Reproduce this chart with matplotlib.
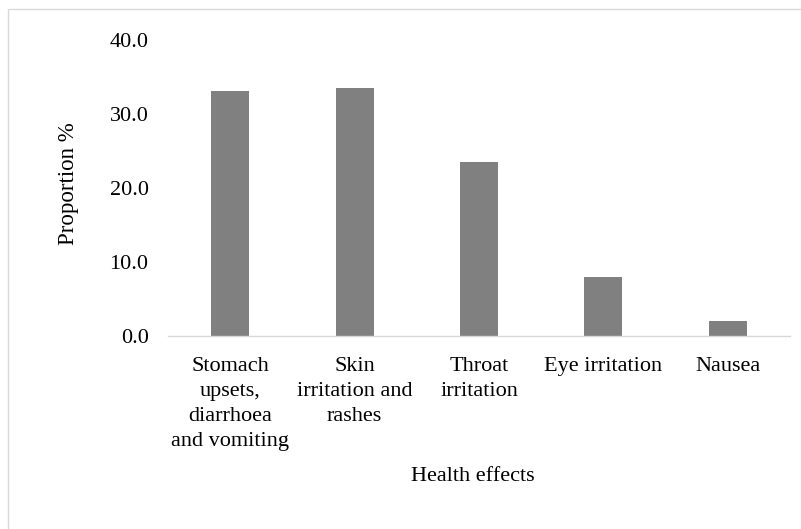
import matplotlib
matplotlib.use("Agg")
import matplotlib.pyplot as plt
from matplotlib.patches import Rectangle

categories = [
    "Stomach\nupsets,\ndiarrhoea\nand vomiting",
    "Skin\nirritation and\nrashes",
    "Throat\nirritation",
    "Eye irritation",
    "Nausea",
]
proportions = [33.1, 33.6, 23.5, 7.9, 2.0]
y_ticks = [0, 10, 20, 30, 40]

plt.rcParams["font.family"] = ["Liberation Serif", "DejaVu Serif"]

fig = plt.figure(figsize=(8.01, 5.29), dpi=100)
ax = fig.add_axes([0.2097, 0.3654, 0.7766, 0.5584])

x = range(len(categories))
ax.bar(x, proportions, width=0.306, color="#808080")
ax.set_xlim(-0.5, len(categories) - 0.5)
ax.set_ylim(0, 40)
ax.set_yticks(y_ticks)
ax.set_yticklabels([f"{v:.1f}" for v in y_ticks], fontsize=16)
ax.set_xticks(list(x))
ax.set_xticklabels(categories, fontsize=16, linespacing=1.43, va="top")

for side in ("top", "right", "left"):
    ax.spines[side].set_visible(False)
ax.spines["bottom"].set_color("#d9d9d9")
ax.spines["bottom"].set_linewidth(1.0)
ax.tick_params(axis="both", length=0)
ax.tick_params(axis="y", pad=14)
ax.tick_params(axis="x", pad=15)

ax.set_ylabel("Proportion %", fontsize=16.5)
ax.yaxis.set_label_coords(-0.143, 0.515)
ax.set_xlabel("Health effects", fontsize=16, va="top")
ax.xaxis.set_label_coords(0.49, -0.445)

fig.patches.append(Rectangle((8 / 801, -0.05), 1.2, 1 - 9 / 529 + 0.05,
                             transform=fig.transFigure, fill=False,
                             edgecolor="#d9d9d9", linewidth=1.0))

fig.savefig("out.png", dpi=100)
